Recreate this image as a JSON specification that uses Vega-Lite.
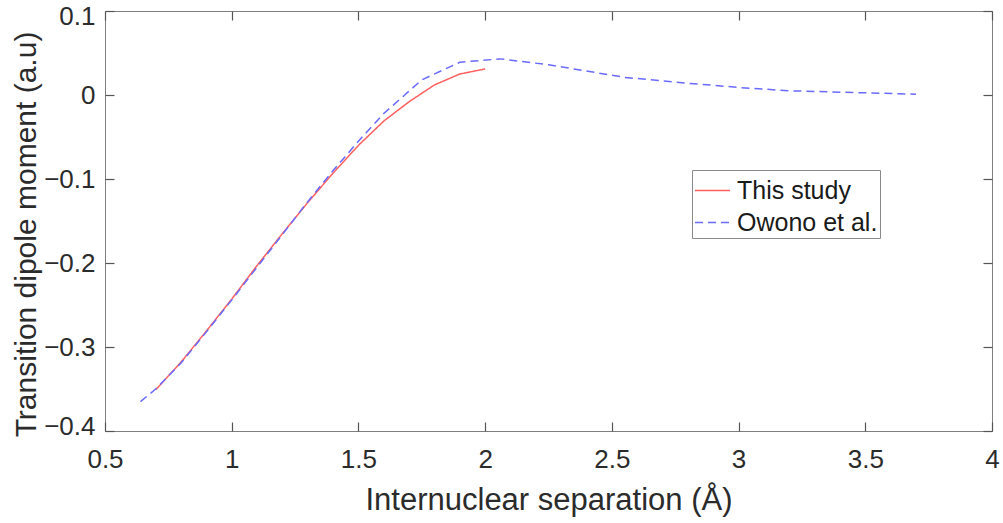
{
  "$schema": "https://vega.github.io/schema/vega-lite/v6.json",
  "width": 887,
  "height": 420,
  "autosize": "none",
  "padding": {"left": 105, "top": 11, "right": 11, "bottom": 92},
  "background": "white",
  "config": {
    "font": "Liberation Sans",
    "view": {"stroke": "#7f7f7f", "strokeWidth": 1},
    "axis": {"grid": false}
  },
  "data": {
    "values": [
      {"x": 0.70, "y": -0.351, "series": "This study"},
      {"x": 0.80, "y": -0.318, "series": "This study"},
      {"x": 0.90, "y": -0.281, "series": "This study"},
      {"x": 1.00, "y": -0.243, "series": "This study"},
      {"x": 1.10, "y": -0.203, "series": "This study"},
      {"x": 1.20, "y": -0.165, "series": "This study"},
      {"x": 1.30, "y": -0.128, "series": "This study"},
      {"x": 1.40, "y": -0.093, "series": "This study"},
      {"x": 1.50, "y": -0.060, "series": "This study"},
      {"x": 1.60, "y": -0.031, "series": "This study"},
      {"x": 1.70, "y": -0.008, "series": "This study"},
      {"x": 1.80, "y": 0.012, "series": "This study"},
      {"x": 1.90, "y": 0.025, "series": "This study"},
      {"x": 2.00, "y": 0.031, "series": "This study"},
      {"x": 0.64, "y": -0.365, "series": "Owono et al."},
      {"x": 0.70, "y": -0.350, "series": "Owono et al."},
      {"x": 0.80, "y": -0.319, "series": "Owono et al."},
      {"x": 0.90, "y": -0.282, "series": "Owono et al."},
      {"x": 1.00, "y": -0.244, "series": "Owono et al."},
      {"x": 1.10, "y": -0.205, "series": "Owono et al."},
      {"x": 1.20, "y": -0.166, "series": "Owono et al."},
      {"x": 1.30, "y": -0.127, "series": "Owono et al."},
      {"x": 1.40, "y": -0.090, "series": "Owono et al."},
      {"x": 1.50, "y": -0.055, "series": "Owono et al."},
      {"x": 1.60, "y": -0.022, "series": "Owono et al."},
      {"x": 1.75, "y": 0.018, "series": "Owono et al."},
      {"x": 1.90, "y": 0.039, "series": "Owono et al."},
      {"x": 2.06, "y": 0.043, "series": "Owono et al."},
      {"x": 2.25, "y": 0.036, "series": "Owono et al."},
      {"x": 2.55, "y": 0.021, "series": "Owono et al."},
      {"x": 2.80, "y": 0.014, "series": "Owono et al."},
      {"x": 3.00, "y": 0.009, "series": "Owono et al."},
      {"x": 3.20, "y": 0.005, "series": "Owono et al."},
      {"x": 3.45, "y": 0.003, "series": "Owono et al."},
      {"x": 3.70, "y": 0.001, "series": "Owono et al."}
    ]
  },
  "layer": [
    {
      "mark": {"type": "line", "strokeWidth": 1.5},
      "encoding": {
        "x": {
          "field": "x", "type": "quantitative",
          "scale": {"domain": [0.5, 4], "nice": false, "zero": false},
          "axis": {
            "orient": "bottom", "values": [0.5, 1, 1.5, 2, 2.5, 3, 3.5, 4],
            "format": "~g", "offset": -9, "domain": false,
            "ticks": true, "tickSize": 9, "tickWidth": 1.2, "tickColor": "#555555", "tickOpacity": 1,
            "title": "Internuclear separation (Å)",
            "labelFontSize": 26, "labelColor": "#2b2b2b", "labelPadding": 15,
            "labelFlush": false,
            "titleFontSize": 31, "titleFontWeight": "normal", "titleColor": "#2b2b2b", "titlePadding": 13
          }
        },
        "y": {
          "field": "y", "type": "quantitative",
          "scale": {"domain": [-0.4, 0.1], "nice": false, "zero": false},
          "axis": {
            "orient": "left", "values": [-0.4, -0.3, -0.2, -0.1, 0, 0.1],
            "format": "~g", "offset": -9, "domain": false,
            "ticks": true, "tickSize": 9, "tickWidth": 1.2, "tickColor": "#555555", "tickOpacity": 1,
            "title": "Transition dipole moment (a.u)",
            "labelFontSize": 26, "labelColor": "#2b2b2b", "labelPadding": 10,
            "labelFlush": true, "labelFlushOffset": 8,
            "titleFontSize": 30, "titleFontWeight": "normal", "titleColor": "#2b2b2b", "titlePadding": 2,
            "titleY": 223
          }
        },
        "color": {
          "field": "series", "type": "nominal",
          "scale": {"domain": ["This study", "Owono et al."], "range": ["#ff6060", "#6a6aff"]},
          "legend": {
            "orient": "none", "legendX": 587, "legendY": 159,
            "title": null, "symbolType": "stroke", "symbolSize": 1225,
            "symbolStrokeWidth": 1.5, "labelFontSize": 25, "labelColor": "#1a1a1a",
            "labelOffset": 6, "rowPadding": 0, "padding": 2,
            "strokeColor": "#8a8a8a", "fillColor": "white"
          }
        },
        "strokeDash": {
          "field": "series", "type": "nominal",
          "scale": {"domain": ["This study", "Owono et al."], "range": [[1, 0], [8, 5]]},
          "legend": null
        }
      }
    },
    {
      "mark": {"type": "line", "strokeOpacity": 0},
      "encoding": {
        "x": {
          "field": "x", "type": "quantitative",
          "axis": {"orient": "top", "values": [0.5, 1, 1.5, 2, 2.5, 3, 3.5, 4], "labels": false, "title": null,
            "offset": -9, "domain": false, "ticks": true, "tickSize": 9, "tickWidth": 1.2, "tickColor": "#555555", "tickOpacity": 1}
        },
        "y": {
          "field": "y", "type": "quantitative",
          "axis": {"orient": "right", "values": [-0.4, -0.3, -0.2, -0.1, 0, 0.1], "labels": false, "title": null,
            "offset": -9, "domain": false, "ticks": true, "tickSize": 9, "tickWidth": 1.2, "tickColor": "#555555", "tickOpacity": 1}
        },
        "detail": {"field": "series"}
      }
    }
  ]
}
